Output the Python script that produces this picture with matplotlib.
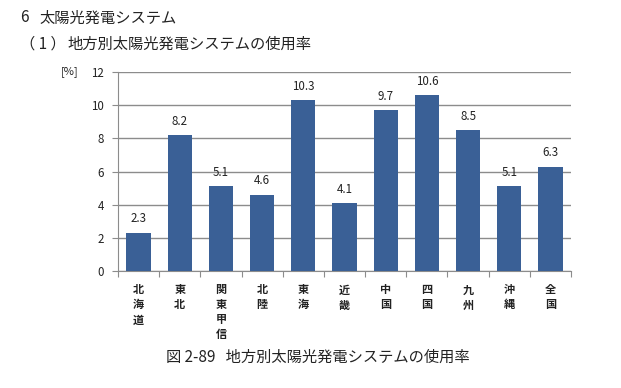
import matplotlib
matplotlib.use('Agg')
import matplotlib.pyplot as plt
import numpy as np

# DATA ---------------------------------------------------------------------------------------------
regions = ['北海道', '東北', '関東甲信', '北陸', '東海', '近畿', '中国', '四国', '九州', '沖縄', '全国']
usage_rate = [2.3, 8.2, 5.1, 4.6, 10.3, 4.1, 9.7, 10.6, 8.5, 5.1, 6.3]
y_ticks = [0, 2, 4, 6, 8, 10, 12]

heading_num = '6'
heading = '太陽光発電システム'
sub_num = '（ 1 ）'
subheading = '地方別太陽光発電システムの使用率'
caption = '図 2-89   地方別太陽光発電システムの使用率'

plt.rcParams['font.family'] = ['Noto Sans CJK JP', 'DejaVu Sans']

# PLOT ---------------------------------------------------------------------------------------------
fig = plt.figure(figsize=(6.21, 3.88), dpi=100)
ax = fig.add_axes([0.190, 0.3015, 0.7295, 0.5129])

x = np.arange(len(regions))
ax.bar(x, usage_rate, width=0.59, color='#3A6096', zorder=3)

for xi, v in zip(x, usage_rate):
    ax.text(xi, v + 0.45, f'{v:.1f}', ha='center', va='bottom', fontsize=8.3, color='#222222')

ax.set_xlim(-0.5, len(regions) - 0.5)
ax.set_ylim(0, 12)
ax.set_yticks(y_ticks)
ax.set_yticklabels([str(t) for t in y_ticks], fontsize=8.3, color='#222222')
ax.yaxis.grid(True, color='#8c8c8c', linewidth=1.0, zorder=0)

# category boundary ticks on x axis
ax.set_xticks(np.arange(-0.5, len(regions), 1.0))
ax.set_xticklabels([])
ax.tick_params(axis='x', direction='out', length=4, color='#8c8c8c')
ax.tick_params(axis='y', direction='out', length=4, color='#8c8c8c', pad=6)

for s in ['top', 'right']:
    ax.spines[s].set_visible(False)
ax.spines['left'].set_color('#8c8c8c')
ax.spines['bottom'].set_color('#8c8c8c')

# vertical (stacked) category labels
for xi, name in zip(x, regions):
    ax.text(xi, -0.75, '\n'.join(name), ha='center', va='top', fontsize=8, fontweight='bold',
            color='#222222', linespacing=1.2)

fig.text(61 / 621, 1 - 72 / 388, '[%]', fontsize=8, ha='left', va='center', color='#222222')

fig.text(20 / 621, 1 - 18 / 388, heading_num, fontsize=11, ha='left', va='center', color='#222222')
fig.text(40 / 621, 1 - 18 / 388, heading, fontsize=11, ha='left', va='center', color='#222222')
fig.text(20 / 621, 1 - 44 / 388, sub_num, fontsize=11, ha='left', va='center', color='#222222')
fig.text(67 / 621, 1 - 44 / 388, subheading, fontsize=11, ha='left', va='center', color='#222222')
fig.text(318 / 621, 1 - 357 / 388, caption, fontsize=11, ha='center', va='center', color='#222222')

plt.savefig('out.png', dpi=100)
